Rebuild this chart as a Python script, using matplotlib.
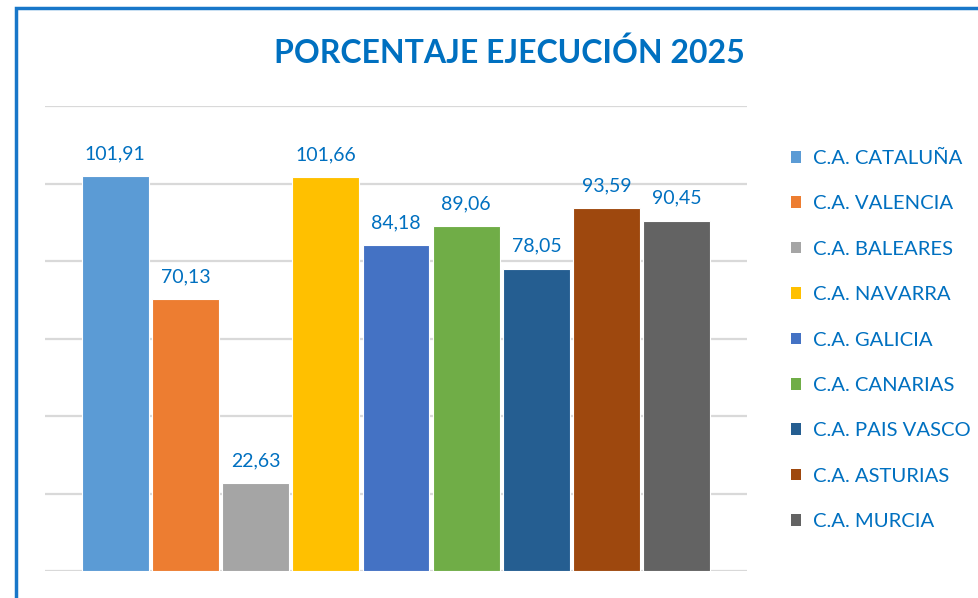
import matplotlib.pyplot as plt
from matplotlib.patches import Patch, Rectangle

# data
regions = ['C.A. CATALUÑA', 'C.A. VALENCIA', 'C.A. BALEARES', 'C.A. NAVARRA',
           'C.A. GALICIA', 'C.A. CANARIAS', 'C.A. PAIS VASCO', 'C.A. ASTURIAS',
           'C.A. MURCIA']
values = [101.91, 70.13, 22.63, 101.66, 84.18, 89.06, 78.05, 93.59, 90.45]
colors = ['#5B9BD5', '#ED7D31', '#A5A5A5', '#FFC000', '#4472C4',
          '#70AD47', '#255E91', '#9E480E', '#636363']

BLUE = '#0070C0'
plt.rcParams['font.family'] = ['Lato', 'DejaVu Sans']

fig = plt.figure(figsize=(9.79, 5.98), dpi=100)
W, H = 979, 598
ax = fig.add_axes([45 / W, 27 / H, 702 / W, 465 / H])

xs = list(range(len(values)))
ax.bar(xs, values, width=0.95, color=colors, edgecolor='white', linewidth=0.8, zorder=3)
for x, v in zip(xs, values):
    ax.annotate(f'{v:.2f}'.replace('.', ','), (x, v), xytext=(0, 10),
                textcoords='offset points', ha='center', va='bottom',
                fontsize=14, color=BLUE)

ax.set_xlim(-1.0, 9.0)
ax.set_ylim(0, 120)
ax.set_yticks(range(0, 121, 20))
ax.grid(axis='y', color='#d9d9d9', lw=1.6, zorder=0)
ax.tick_params(left=False, bottom=False, labelleft=False, labelbottom=False)
for s in ax.spines.values():
    s.set_visible(False)

fig.text(509 / W, 1 - 53 / H, 'PORCENTAJE EJECUCIÓN 2025', ha='center', va='center',
         fontsize=23, fontweight='bold', color=BLUE)

handles = [Patch(facecolor=c, edgecolor='none') for c in colors]
leg = fig.legend(handles, regions, loc='upper left', bbox_to_anchor=(791 / W, 1 - 150 / H),
                 frameon=False, fontsize=14.6, handlelength=0.5, handleheight=0.5,
                 handletextpad=0.6, labelspacing=1.4, borderaxespad=0, borderpad=0)
for t in leg.get_texts():
    t.set_color(BLUE)

# outer border (cropped at right and bottom)
fig.add_artist(Rectangle((16 / W, -0.1), 1.2, 1 - 8 / H + 0.1, transform=fig.transFigure,
                         fill=False, edgecolor='#1877C9', lw=2.5))

fig.savefig('out.png', dpi=100)
